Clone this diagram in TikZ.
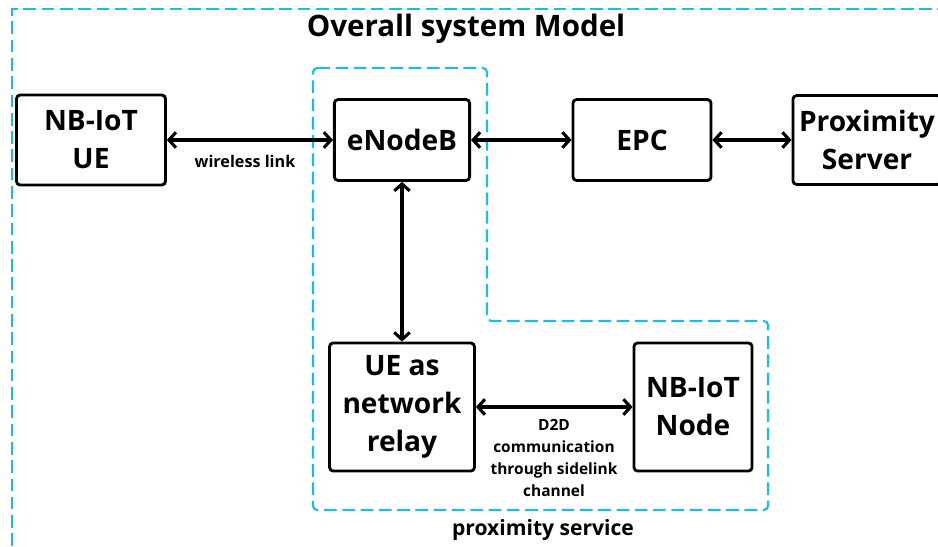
\documentclass[tikz,border=0pt]{standalone}
\usepackage{fontspec}
\setmainfont{Open Sans}
\usetikzlibrary{arrows.meta}
\definecolor{proxcyan}{RGB}{30,188,224}
\begin{document}
\begin{tikzpicture}[x=0.025cm,y=-0.025cm,
  >={Straight Barb[length=5pt,width=11pt]},
  block/.style={draw,line width=2pt,rounded corners=2.5pt,align=center,inner sep=0pt,
    font=\fontsize{20}{27}\selectfont\bfseries},
  conn/.style={line width=2.2pt,<->},
  linklabel/.style={align=center,font=\fontsize{11}{15.5}\selectfont\bfseries},
  dashframe/.style={draw=proxcyan,line width=1.5pt,dash pattern=on 9pt off 4pt}]

\useasboundingbox (0,0) rectangle (938,546);

% outer frame
\draw[dashframe] (12,546) -- (12,9) -- (945,9);
\node[font=\fontsize{21}{25}\selectfont\bfseries] (title) at (466,29) {Overall system Model};

% proximity service region
\draw[dashframe,rounded corners=3pt] (313,68) -- (487,68) -- (487,321) -- (768,321)
  -- (768,510) -- (313,510) -- cycle;
\node[font=\fontsize{15}{18}\selectfont\bfseries] (proxlabel) at (543,530) {proximity service};

% blocks
\node[block,minimum width=3.72cm,minimum height=2.25cm] (ue) at (91,140) {NB-IoT\\UE};
\node[block,minimum width=3.38cm,minimum height=2.02cm] (enb) at (402,140) {eNodeB};
\node[block,minimum width=3.45cm,minimum height=2.02cm] (epc) at (642,140) {EPC};
\node[block,minimum width=3.7cm,minimum height=2.22cm] (prox) at (867,140) {Proximity\\Server};
\node[block,minimum width=3.62cm,minimum height=3.2cm] (relay) at (402,407) {UE as\\network\\relay};
\node[block,minimum width=2.95cm,minimum height=3.2cm] (iotnode) at (693,407) {NB-IoT\\Node};

% links
\draw[conn] (ue.east) -- (enb.west);
\node[linklabel,font=\fontsize{11.5}{15.5}\selectfont\bfseries] (wireless) at (245,161) {wireless link};
\draw[conn] (enb.east) -- (epc.west);
\draw[conn] (epc.east) -- (prox.west);
\draw[conn] (enb.south) -- (relay.north);
\draw[conn] (relay.east) -- (iotnode.west);
\node[linklabel] (d2d) at (554,458) {D2D\\communication\\through sidelink\\channel};

\end{tikzpicture}
\end{document}
